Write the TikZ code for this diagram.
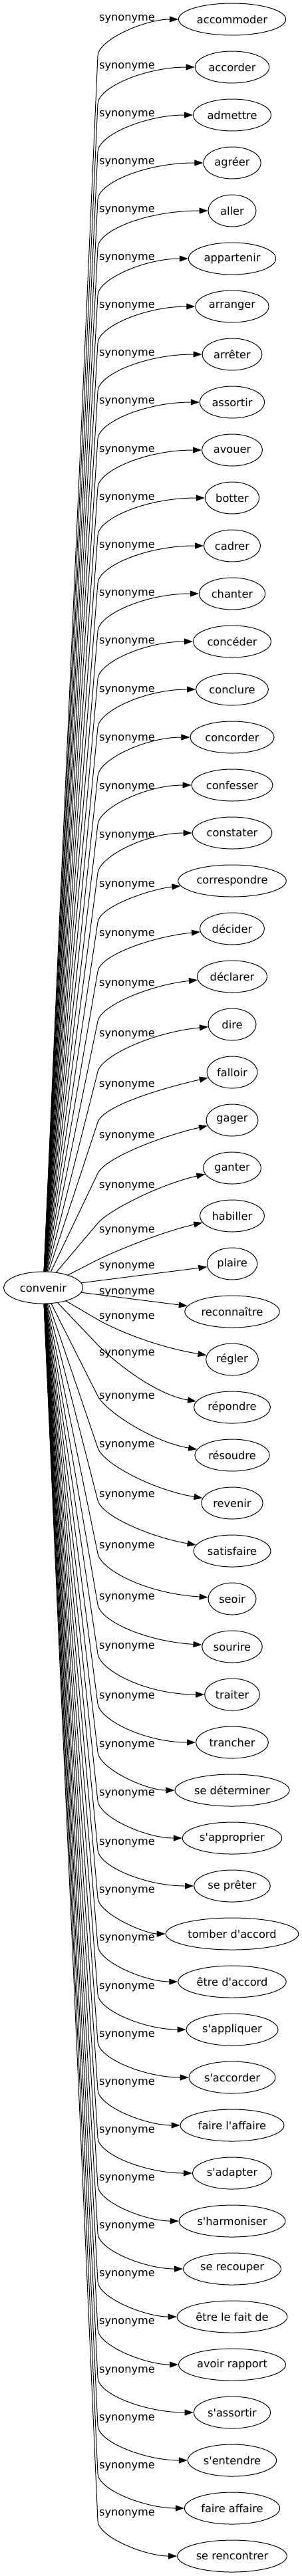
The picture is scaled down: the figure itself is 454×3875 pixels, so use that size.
\documentclass[tikz,border=0pt]{standalone}
\usepackage{fontspec}
\newfontfamily\graphfont{DejaVu Sans}
\usetikzlibrary{calc,arrows.meta,shapes.geometric}

\begin{document}
\begin{tikzpicture}[x=1pt, y=-1pt,
  word/.style={draw, ellipse, line width=1pt, minimum width=72pt, minimum height=48pt,
    inner xsep=4pt, font=\graphfont\fontsize{16.2}{19}\selectfont},
  rel/.style={inner sep=0pt, font=\graphfont\fontsize{16.2}{19}\selectfont},
  syn/.style={line width=1pt, -{Triangle[length=13pt, width=9pt]}}]

  \useasboundingbox (0,0) rectangle (454,3875);

  % source word
  \node[word, minimum width=119pt] (conv) at (65,1937) {convenir};

  % synonyms
  \node[word] (t0) at (349,29) {accommoder};
  \node[word] (t1) at (349,101) {accorder};
  \node[word] (t2) at (349,173) {admettre};
  \node[word] (t3) at (349,245) {agréer};
  \node[word] (t4) at (349,317) {aller};
  \node[word] (t5) at (349,389) {appartenir};
  \node[word] (t6) at (349,461) {arranger};
  \node[word] (t7) at (349,533) {arrêter};
  \node[word] (t8) at (349,605) {assortir};
  \node[word] (t9) at (349,677) {avouer};
  \node[word] (t10) at (349,749) {botter};
  \node[word] (t11) at (349,821) {cadrer};
  \node[word] (t12) at (349,893) {chanter};
  \node[word] (t13) at (349,965) {concéder};
  \node[word] (t14) at (349,1037) {conclure};
  \node[word] (t15) at (349,1109) {concorder};
  \node[word] (t16) at (349,1181) {confesser};
  \node[word] (t17) at (349,1253) {constater};
  \node[word] (t18) at (349,1325) {correspondre};
  \node[word] (t19) at (349,1397) {décider};
  \node[word] (t20) at (349,1469) {déclarer};
  \node[word] (t21) at (349,1541) {dire};
  \node[word] (t22) at (349,1613) {falloir};
  \node[word] (t23) at (349,1685) {gager};
  \node[word] (t24) at (349,1757) {ganter};
  \node[word] (t25) at (349,1829) {habiller};
  \node[word] (t26) at (349,1901) {plaire};
  \node[word] (t27) at (349,1973) {reconnaître};
  \node[word] (t28) at (349,2045) {régler};
  \node[word] (t29) at (349,2117) {répondre};
  \node[word] (t30) at (349,2189) {résoudre};
  \node[word] (t31) at (349,2261) {revenir};
  \node[word] (t32) at (349,2333) {satisfaire};
  \node[word] (t33) at (349,2405) {seoir};
  \node[word] (t34) at (349,2477) {sourire};
  \node[word] (t35) at (349,2549) {traiter};
  \node[word] (t36) at (349,2621) {trancher};
  \node[word] (t37) at (349,2693) {se déterminer};
  \node[word] (t38) at (349,2765) {s'approprier};
  \node[word] (t39) at (349,2837) {se prêter};
  \node[word] (t40) at (349,2909) {tomber d'accord};
  \node[word] (t41) at (349,2981) {être d'accord};
  \node[word] (t42) at (349,3053) {s'appliquer};
  \node[word] (t43) at (349,3125) {s'accorder};
  \node[word] (t44) at (349,3197) {faire l'affaire};
  \node[word] (t45) at (349,3269) {s'adapter};
  \node[word] (t46) at (349,3341) {s'harmoniser};
  \node[word] (t47) at (349,3413) {se recouper};
  \node[word] (t48) at (349,3485) {être le fait de};
  \node[word] (t49) at (349,3557) {avoir rapport};
  \node[word] (t50) at (349,3629) {s'assortir};
  \node[word] (t51) at (349,3701) {s'entendre};
  \node[word] (t52) at (349,3773) {faire affaire};
  \node[word] (t53) at (349,3845) {se rencontrer};

  % edge labels
  \node[rel] (l0) at (191,29) {synonyme};
  \node[rel] (l1) at (191,101) {synonyme};
  \node[rel] (l2) at (191,173) {synonyme};
  \node[rel] (l3) at (191,245) {synonyme};
  \node[rel] (l4) at (191,317) {synonyme};
  \node[rel] (l5) at (191,389) {synonyme};
  \node[rel] (l6) at (191,461) {synonyme};
  \node[rel] (l7) at (191,533) {synonyme};
  \node[rel] (l8) at (191,605) {synonyme};
  \node[rel] (l9) at (191,678) {synonyme};
  \node[rel] (l10) at (191,750) {synonyme};
  \node[rel] (l11) at (191,822) {synonyme};
  \node[rel] (l12) at (191,894) {synonyme};
  \node[rel] (l13) at (191,966) {synonyme};
  \node[rel] (l14) at (191,1039) {synonyme};
  \node[rel] (l15) at (191,1112) {synonyme};
  \node[rel] (l16) at (191,1185) {synonyme};
  \node[rel] (l17) at (191,1258) {synonyme};
  \node[rel] (l18) at (191,1332) {synonyme};
  \node[rel] (l19) at (191,1406) {synonyme};
  \node[rel] (l20) at (191,1481) {synonyme};
  \node[rel] (l21) at (191,1557) {synonyme};
  \node[rel] (l22) at (191,1633) {synonyme};
  \node[rel] (l23) at (191,1710) {synonyme};
  \node[rel] (l24) at (191,1785) {synonyme};
  \node[rel] (l25) at (191,1852) {synonyme};
  \node[rel] (l26) at (191,1906) {synonyme};
  \node[rel] (l27) at (191,1945) {synonyme};
  \node[rel] (l28) at (191,1982) {synonyme};
  \node[rel] (l29) at (191,2037) {synonyme};
  \node[rel] (l30) at (191,2102) {synonyme};
  \node[rel] (l31) at (191,2175) {synonyme};
  \node[rel] (l32) at (191,2250) {synonyme};
  \node[rel] (l33) at (191,2327) {synonyme};
  \node[rel] (l34) at (191,2404) {synonyme};
  \node[rel] (l35) at (191,2478) {synonyme};
  \node[rel] (l36) at (191,2553) {synonyme};
  \node[rel] (l37) at (191,2626) {synonyme};
  \node[rel] (l38) at (191,2699) {synonyme};
  \node[rel] (l39) at (191,2773) {synonyme};
  \node[rel] (l40) at (191,2845) {synonyme};
  \node[rel] (l41) at (191,2917) {synonyme};
  \node[rel] (l42) at (191,2990) {synonyme};
  \node[rel] (l43) at (191,3062) {synonyme};
  \node[rel] (l44) at (191,3134) {synonyme};
  \node[rel] (l45) at (191,3206) {synonyme};
  \node[rel] (l46) at (191,3278) {synonyme};
  \node[rel] (l47) at (191,3350) {synonyme};
  \node[rel] (l48) at (191,3422) {synonyme};
  \node[rel] (l49) at (191,3494) {synonyme};
  \node[rel] (l50) at (191,3567) {synonyme};
  \node[rel] (l51) at (191,3639) {synonyme};
  \node[rel] (l52) at (191,3711) {synonyme};
  \node[rel] (l53) at (191,3782) {synonyme};

  % edges going up
  \draw[syn] (conv) -- (147,84) coordinate (b0) .. controls ($(b0)!-25pt!(conv)$) and +(-130,0) .. (t0);
  \draw[syn] (conv) -- (147,156) coordinate (b1) .. controls ($(b1)!-25pt!(conv)$) and +(-130,0) .. (t1);
  \draw[syn] (conv) -- (147,228) coordinate (b2) .. controls ($(b2)!-25pt!(conv)$) and +(-130,0) .. (t2);
  \draw[syn] (conv) -- (147,300) coordinate (b3) .. controls ($(b3)!-25pt!(conv)$) and +(-130,0) .. (t3);
  \draw[syn] (conv) -- (147,372) coordinate (b4) .. controls ($(b4)!-25pt!(conv)$) and +(-130,0) .. (t4);
  \draw[syn] (conv) -- (147,444) coordinate (b5) .. controls ($(b5)!-25pt!(conv)$) and +(-130,0) .. (t5);
  \draw[syn] (conv) -- (147,516) coordinate (b6) .. controls ($(b6)!-25pt!(conv)$) and +(-130,0) .. (t6);
  \draw[syn] (conv) -- (147,588) coordinate (b7) .. controls ($(b7)!-25pt!(conv)$) and +(-130,0) .. (t7);
  \draw[syn] (conv) -- (147,660) coordinate (b8) .. controls ($(b8)!-25pt!(conv)$) and +(-130,0) .. (t8);
  \draw[syn] (conv) -- (147,733) coordinate (b9) .. controls ($(b9)!-25pt!(conv)$) and +(-130,0) .. (t9);
  \draw[syn] (conv) -- (147,805) coordinate (b10) .. controls ($(b10)!-25pt!(conv)$) and +(-130,0) .. (t10);
  \draw[syn] (conv) -- (147,877) coordinate (b11) .. controls ($(b11)!-25pt!(conv)$) and +(-130,0) .. (t11);
  \draw[syn] (conv) -- (147,949) coordinate (b12) .. controls ($(b12)!-25pt!(conv)$) and +(-130,0) .. (t12);
  \draw[syn] (conv) -- (147,1021) coordinate (b13) .. controls ($(b13)!-25pt!(conv)$) and +(-130,0) .. (t13);
  \draw[syn] (conv) -- (147,1094) coordinate (b14) .. controls ($(b14)!-25pt!(conv)$) and +(-130,0) .. (t14);
  \draw[syn] (conv) -- (147,1167) coordinate (b15) .. controls ($(b15)!-25pt!(conv)$) and +(-130,0) .. (t15);
  \draw[syn] (conv) -- (147,1240) coordinate (b16) .. controls ($(b16)!-25pt!(conv)$) and +(-130,0) .. (t16);
  \draw[syn] (conv) -- (147,1313) coordinate (b17) .. controls ($(b17)!-25pt!(conv)$) and +(-130,0) .. (t17);
  \draw[syn] (conv) -- (147,1387) coordinate (b18) .. controls ($(b18)!-25pt!(conv)$) and +(-120,12) .. (t18);
  \draw[syn] (conv) -- (147,1461) coordinate (b19) .. controls ($(b19)!-25pt!(conv)$) and +(-120,12) .. (t19);
  \draw[syn] (conv) -- (147,1536) coordinate (b20) .. controls ($(b20)!-25pt!(conv)$) and +(-120,12) .. (t20);
  \draw[syn] (conv) -- (147,1612) coordinate (b21) .. controls ($(b21)!-25pt!(conv)$) and +(-120,12) .. (t21);
  \draw[syn] (conv) -- (147,1688) coordinate (b22) .. controls ($(b22)!-25pt!(conv)$) and +(-110,25) .. (t22);
  \draw[syn] (conv) -- (147,1765) coordinate (b23) .. controls ($(b23)!-25pt!(conv)$) and +(-110,25) .. (t23);
  \draw[syn] (conv) -- (147,1840) coordinate (b24) .. controls ($(b24)!-25pt!(conv)$) and +(-110,25) .. (t24);
  \draw[syn] (conv) -- (143,1897) coordinate (b25) .. controls ($(b25)!-25pt!(conv)$) and +(-110,25) .. (t25);

  % nearly straight edges
  \draw[syn] (conv) -- (t26);
  \draw[syn] (conv) -- (t27);

  % edges going down
  \draw[syn] (conv) -- (147,1985) coordinate (b28) .. controls ($(b28)!-25pt!(conv)$) and +(-120,-20) .. (t28);
  \draw[syn] (conv) -- (147,2023) coordinate (b29) .. controls ($(b29)!-25pt!(conv)$) and +(-120,-20) .. (t29);
  \draw[syn] (conv) -- (147,2100) coordinate (b30) .. controls ($(b30)!-25pt!(conv)$) and +(-120,-20) .. (t30);
  \draw[syn] (conv) -- (147,2178) coordinate (b31) .. controls ($(b31)!-25pt!(conv)$) and +(-120,-20) .. (t31);
  \draw[syn] (conv) -- (147,2257) coordinate (b32) .. controls ($(b32)!-25pt!(conv)$) and +(-120,-20) .. (t32);
  \draw[syn] (conv) -- (147,2337) coordinate (b33) .. controls ($(b33)!-25pt!(conv)$) and +(-130,-8) .. (t33);
  \draw[syn] (conv) -- (147,2414) coordinate (b34) .. controls ($(b34)!-25pt!(conv)$) and +(-130,-8) .. (t34);
  \draw[syn] (conv) -- (147,2488) coordinate (b35) .. controls ($(b35)!-25pt!(conv)$) and +(-130,0) .. (t35);
  \draw[syn] (conv) -- (147,2563) coordinate (b36) .. controls ($(b36)!-25pt!(conv)$) and +(-130,0) .. (t36);
  \draw[syn] (conv) -- (147,2636) coordinate (b37) .. controls ($(b37)!-25pt!(conv)$) and +(-130,0) .. (t37);
  \draw[syn] (conv) -- (147,2709) coordinate (b38) .. controls ($(b38)!-25pt!(conv)$) and +(-130,0) .. (t38);
  \draw[syn] (conv) -- (147,2783) coordinate (b39) .. controls ($(b39)!-25pt!(conv)$) and +(-130,0) .. (t39);
  \draw[syn] (conv) -- (147,2855) coordinate (b40) .. controls ($(b40)!-25pt!(conv)$) and +(-130,0) .. (t40);
  \draw[syn] (conv) -- (147,2927) coordinate (b41) .. controls ($(b41)!-25pt!(conv)$) and +(-130,0) .. (t41);
  \draw[syn] (conv) -- (147,3000) coordinate (b42) .. controls ($(b42)!-25pt!(conv)$) and +(-130,0) .. (t42);
  \draw[syn] (conv) -- (147,3072) coordinate (b43) .. controls ($(b43)!-25pt!(conv)$) and +(-130,0) .. (t43);
  \draw[syn] (conv) -- (147,3144) coordinate (b44) .. controls ($(b44)!-25pt!(conv)$) and +(-130,0) .. (t44);
  \draw[syn] (conv) -- (147,3216) coordinate (b45) .. controls ($(b45)!-25pt!(conv)$) and +(-130,0) .. (t45);
  \draw[syn] (conv) -- (147,3288) coordinate (b46) .. controls ($(b46)!-25pt!(conv)$) and +(-130,0) .. (t46);
  \draw[syn] (conv) -- (147,3360) coordinate (b47) .. controls ($(b47)!-25pt!(conv)$) and +(-130,0) .. (t47);
  \draw[syn] (conv) -- (147,3432) coordinate (b48) .. controls ($(b48)!-25pt!(conv)$) and +(-130,0) .. (t48);
  \draw[syn] (conv) -- (147,3504) coordinate (b49) .. controls ($(b49)!-25pt!(conv)$) and +(-130,0) .. (t49);
  \draw[syn] (conv) -- (147,3577) coordinate (b50) .. controls ($(b50)!-25pt!(conv)$) and +(-130,0) .. (t50);
  \draw[syn] (conv) -- (147,3649) coordinate (b51) .. controls ($(b51)!-25pt!(conv)$) and +(-130,0) .. (t51);
  \draw[syn] (conv) -- (147,3721) coordinate (b52) .. controls ($(b52)!-25pt!(conv)$) and +(-130,0) .. (t52);
  \draw[syn] (conv) -- (147,3792) coordinate (b53) .. controls ($(b53)!-25pt!(conv)$) and +(-130,0) .. (t53);

\end{tikzpicture}
\end{document}
